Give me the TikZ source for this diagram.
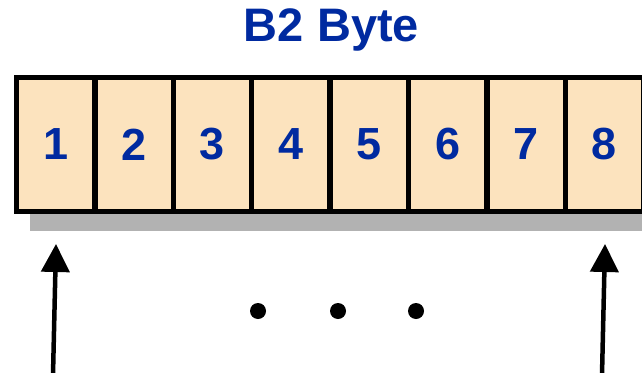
\documentclass[tikz,border=0pt]{standalone}
\usepackage{fontspec}
\setmainfont{Liberation Sans}
\usepackage{tikz}
\usetikzlibrary{arrows.meta,positioning}
\definecolor{byteFill}{RGB}{252,227,190}
\definecolor{byteBlue}{RGB}{0,42,160}
\definecolor{shadowGray}{RGB}{178,178,178}

\begin{document}
\begin{tikzpicture}[x=1pt,y=-1pt,
    cell/.style={draw, line width=5.5pt, fill=byteFill, inner sep=0pt,
      minimum width=78.4pt, minimum height=134pt, text=byteBlue,
      font=\bfseries\fontsize{45}{50}\selectfont},
    dot/.style={circle, fill=black, inner sep=0pt, minimum size=16pt},
    pointer/.style={line width=4.5pt, -{Triangle[length=28pt,width=28pt]}}
]
\useasboundingbox (0,0) rectangle (642,372);
\clip (0,0) rectangle (642,372);

% ---- Titulo ----
\node[text=byteBlue, font=\bfseries\fontsize{47}{50}\selectfont] (title) at (331.5,30) {B2 Byte};

% ---- Sombra ----
\fill[shadowGray] (30,100) rectangle (680,231);

% ---- Celdas ----
\node[cell] (c1) at (55.7,144.5) {1};
\node[cell] (c2) at (134.1,144.5) {2};
\node[cell] (c3) at (212.5,144.5) {3};
\node[cell] (c4) at (290.9,144.5) {4};
\node[cell] (c5) at (369.3,144.5) {5};
\node[cell] (c6) at (447.7,144.5) {6};
\node[cell] (c7) at (526.1,144.5) {7};
\node[cell] (c8) at (604.5,144.5) {8};

% ---- Puntos ----
\node[dot] (d1) at (258,311) {};
\node[dot] (d2) at (338,311) {};
\node[dot] (d3) at (416,311) {};

% ---- Flechas ----
\coordinate (l0) at (53,375);
\coordinate (l1) at (56,244);
\coordinate (r0) at (602,375);
\coordinate (r1) at (605,244);
\draw[pointer] (l0) -- (l1);
\draw[pointer] (r0) -- (r1);

\end{tikzpicture}
\end{document}
